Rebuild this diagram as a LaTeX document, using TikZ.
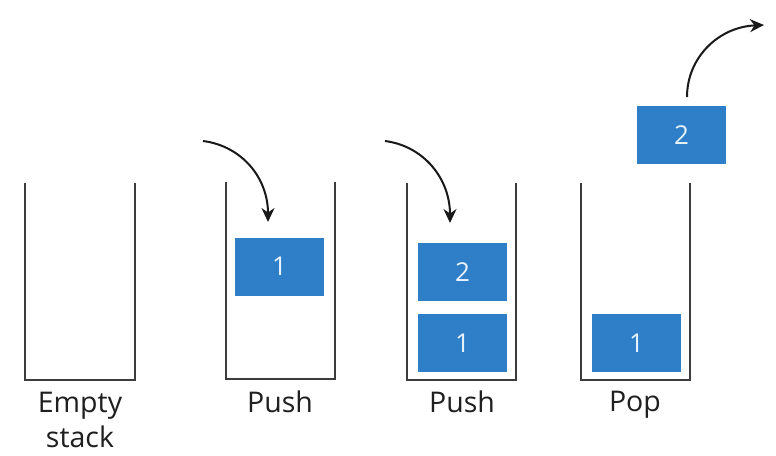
\documentclass[tikz,border=0pt]{standalone}
\usepackage{fontspec}
\setmainfont{Open Sans}
\usetikzlibrary{arrows.meta}
\definecolor{boxblue}{RGB}{47,126,200}
\definecolor{wallgray}{RGB}{60,60,60}
\definecolor{digit}{RGB}{230,242,255}
\begin{document}
\begin{tikzpicture}[x=1pt,y=-1pt,
  wall/.style={draw=wallgray,line width=2pt},
  item/.style={fill=boxblue,text=digit,minimum width=89pt,minimum height=58pt,inner sep=0pt,font=\fontsize{26}{26}\selectfont},
  lbl/.style={font=\fontsize{28.5}{30}\selectfont,text=black!88,anchor=base},
  flow/.style={draw=black!90,line width=2pt,-{Stealth[length=14pt,width=13pt]}}]
\useasboundingbox (0,0) rectangle (776,455);
\fill[white] (0,0) rectangle (776,455);
% stacks
\draw[wall] (25,183) -- (25,380) -- (135,380) -- (135,183);
\draw[wall] (226,182) -- (226,379) -- (335,379) -- (335,182);
\draw[wall] (407,183) -- (407,380) -- (516,380) -- (516,183);
\draw[wall] (581,183) -- (581,380) -- (690,380) -- (690,183);
% items
\node[item] (b21) at (279.5,266.5) {1};
\node[item] (b32) at (462.5,272) {2};
\node[item] (b31) at (462.5,343) {1};
\node[item] (b41) at (636.5,343) {1};
\node[item] (b42) at (681.5,135) {2};
% labels
\node[lbl] (lEmpty) at (80,412) {Empty};
\node[lbl] (lStack) at (80,447) {stack};
\node[lbl] (lPush1) at (280,412) {Push};
\node[lbl] (lPush2) at (462,412) {Push};
\node[lbl] (lPop) at (635,411) {Pop};
% arrows
\coordinate (a1s) at (203,141);
\coordinate (a1e) at (268,222);
\draw[flow] (a1s) .. controls (242,146) and (268,178) .. (a1e);
\coordinate (a2s) at (385,141);
\coordinate (a2e) at (450,223);
\draw[flow] (a2s) .. controls (424,146) and (450,179) .. (a2e);
\coordinate (a3s) at (687,97);
\coordinate (a3e) at (764,25);
\draw[flow] (a3s) .. controls (687,58) and (718,27) .. (a3e);
\end{tikzpicture}
\end{document}
